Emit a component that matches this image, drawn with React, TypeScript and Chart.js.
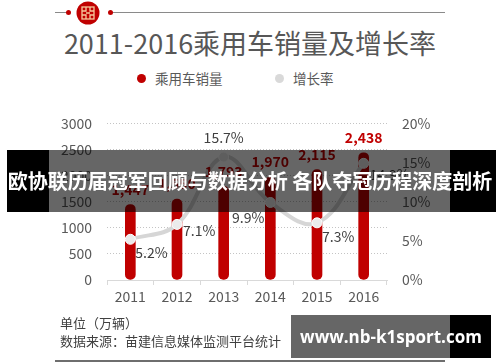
import React, { useEffect, useRef } from 'react';
import { Chart, registerables } from 'chart.js';

Chart.register(...registerables);

const FONT = "'Noto Sans CJK SC', 'Noto Sans', sans-serif";

const years = ['2011', '2012', '2013', '2014', '2015', '2016'];
const sales = [1447, 1550, 1793, 1970, 2115, 2438];
const growth = [5.2, 7.1, 15.7, 9.9, 7.3, 14.9];
const salesMax = 3000;
const salesStep = 500;
const growthMax = 20;
const growthStep = 5;

const titleText = '2011-2016乘用车销量及增长率';
const legendSales = '乘用车销量';
const legendGrowth = '增长率';
const unitText = '单位（万辆）';
const sourceText = '数据来源：苗建信息媒体监测平台统计';
const bannerText = '欧协联历届冠军回顾与数据分析 各队夺冠历程深度剖析';
const watermarkText = 'www.nb-k1sport.com';

// label placement relative to each growth point: [dx, dy, align]
const growthLabelPlacement: [number, number, CanvasTextAlign][] = [
  [5, 13, 'left'],
  [6, 6, 'left'],
  [0, -19, 'center'],
  [-6, 15, 'right'],
  [5, 14, 'left'],
  [6, 11, 'left'],
];

const RED = '#c00000';
const GREY_LINE = '#d6d6d6';

const labelPlugin = {
  id: 'valueLabels',
  afterDatasetsDraw(chart: any) {
    const ctx = chart.ctx;
    ctx.save();
    ctx.textBaseline = 'middle';
    const barMeta = chart.getDatasetMeta(0);
    ctx.font = `bold 14px ${FONT}`;
    ctx.fillStyle = RED;
    ctx.textAlign = 'center';
    barMeta.data.forEach((el: any, i: number) => {
      ctx.fillText(sales[i].toLocaleString('en-US'), el.x, el.y - 15);
    });
    const lineMeta = chart.getDatasetMeta(1);
    ctx.font = `14px ${FONT}`;
    ctx.fillStyle = '#404040';
    lineMeta.data.forEach((el: any, i: number) => {
      const [dx, dy, align] = growthLabelPlacement[i];
      ctx.textAlign = align;
      ctx.fillText(growth[i].toFixed(1) + '%', el.x + dx, el.y + dy);
    });
    ctx.restore();
  },
};

function ChartCanvas() {
  const ref = useRef<HTMLCanvasElement | null>(null);
  useEffect(() => {
    if (!ref.current) return;
    const chart = new Chart(ref.current, {
      type: 'bar',
      data: {
        labels: years,
        datasets: [
          {
            type: 'bar',
            label: legendSales,
            data: sales,
            yAxisID: 'y',
            backgroundColor: RED,
            barThickness: 10,
            borderRadius: 5,
            borderSkipped: false,
            order: 1,
          } as any,
          {
            type: 'line',
            label: legendGrowth,
            data: growth,
            yAxisID: 'y1',
            borderColor: GREY_LINE,
            borderWidth: 4,
            tension: 0.4,
            pointRadius: 5,
            pointBackgroundColor: '#ebebeb',
            pointBorderColor: '#ffffff',
            pointBorderWidth: 1,
            order: 0,
          } as any,
        ],
      },
      options: {
        animation: false,
        responsive: false,
        devicePixelRatio: 1,
        layout: { padding: { top: 22, left: 0, right: 0, bottom: 0 } },
        plugins: { legend: { display: false }, tooltip: { enabled: false } },
        scales: {
          x: {
            type: 'category',
            offset: true,
            grid: {
              offset: true,
              drawOnChartArea: false,
              drawTicks: true,
              tickLength: 5,
              color: '#d9d9d9',
            },
            border: { color: '#d9d9d9' },
            ticks: { font: { size: 14, family: FONT }, color: '#595959', padding: 3 },
            afterFit: (s: any) => {
              s.height = 35;
            },
          },
          y: {
            position: 'left',
            min: 0,
            max: salesMax,
            ticks: {
              stepSize: salesStep,
              font: { size: 14, family: FONT },
              color: '#595959',
              padding: 15,
              callback: (v: any) => String(v),
            },
            grid: {
              drawTicks: false,
              color: (c: any) => (c.tick && c.tick.value === 0 ? 'rgba(0,0,0,0)' : '#c4c4c4'),
            },
            border: { display: false, dash: [1, 2] },
            afterFit: (s: any) => {
              s.width = 107;
            },
          },
          y1: {
            position: 'right',
            min: 0,
            max: growthMax,
            ticks: {
              stepSize: growthStep,
              font: { size: 14, family: FONT },
              color: '#595959',
              padding: 15,
              callback: (v: any) => v + '%',
            },
            grid: { display: false, drawTicks: false },
            border: { display: false },
            afterFit: (s: any) => {
              s.width = 113;
            },
          },
        },
      } as any,
      plugins: [labelPlugin],
    });
    return () => chart.destroy();
  }, []);
  return (
    <canvas
      ref={ref}
      width={500}
      height={215}
      style={{ position: 'absolute', left: 0, top: 100, width: 500, height: 215 }}
    />
  );
}

const abs = (s: React.CSSProperties): React.CSSProperties => ({ position: 'absolute', ...s });

export default function App() {
  return (
    <div
      style={{
        position: 'absolute',
        left: 0,
        top: 0,
        width: 500,
        height: 362,
        background: '#ffffff',
        overflow: 'hidden',
        fontFamily: FONT,
      }}
    >
      {/* top decoration */}
      <div style={abs({ left: 55, top: 12, width: 13, height: 1, background: '#8a8a8a' })} />
      <div style={abs({ left: 110, top: 12, width: 335, height: 1, background: '#8a8a8a' })} />
      <div style={abs({ left: 66, top: 10, width: 5, height: 5, borderRadius: 3, background: RED })} />
      <div style={abs({ left: 108, top: 10, width: 5, height: 5, borderRadius: 3, background: RED })} />
      <svg style={abs({ left: 76, top: 1, width: 24, height: 24 })} viewBox="0 0 24 24">
        <circle cx="12" cy="12" r="11.5" fill={RED} />
        <g fill="none" stroke="#f6c89c" strokeWidth="1.3">
          <rect x="6" y="6" width="12" height="12" />
          <path d="M6 10 H10 V6 M14 6 V10 H18 M6 14 H10 V18 M14 18 V14 H18 M10 12 H14" />
        </g>
      </svg>

      {/* title */}
      <div
        style={abs({
          left: 0,
          top: 25,
          width: 500,
          height: 36,
          lineHeight: '36px',
          textAlign: 'center',
          fontSize: 27,
          color: '#575757',
        })}
      >
        {titleText}
      </div>

      {/* legend */}
      <div style={abs({ left: 137, top: 74, width: 9, height: 9, borderRadius: 5, background: RED })} />
      <div style={abs({ left: 155, top: 69, height: 18, lineHeight: '18px', fontSize: 13.5, color: '#595959' })}>
        {legendSales}
      </div>
      <div style={abs({ left: 275, top: 74, width: 9, height: 9, borderRadius: 5, background: '#d9d9d9' })} />
      <div style={abs({ left: 293, top: 69, height: 18, lineHeight: '18px', fontSize: 13.5, color: '#595959' })}>
        {legendGrowth}
      </div>

      <ChartCanvas />

      {/* footer */}
      <div style={abs({ left: 60, top: 314, height: 18, lineHeight: '18px', fontSize: 13, color: '#404040' })}>
        {unitText}
      </div>
      <div style={abs({ left: 60, top: 332, height: 18, lineHeight: '18px', fontSize: 13, color: '#404040' })}>
        {sourceText}
      </div>
      <div style={abs({ left: 55, top: 360, width: 390, height: 1.5, background: '#6e6e6e' })} />

      {/* overlay banner */}
      <div style={abs({ left: 7, top: 150, width: 42, height: 62, background: '#000' })} />
      <div style={abs({ left: 49, top: 150, width: 401, height: 62, background: 'rgba(0,0,0,0.6)' })} />
      <div style={abs({ left: 450, top: 150, width: 46, height: 62, background: '#000' })} />
      <div
        style={abs({
          left: 0,
          top: 150,
          width: 500,
          height: 62,
          lineHeight: '62px',
          textAlign: 'center',
          fontSize: 20,
          fontWeight: 'bold',
          color: '#ffffff',
          whiteSpace: 'nowrap',
        })}
      >
        {bannerText}
      </div>

      {/* watermark */}
      <div style={abs({ left: 291, top: 315, width: 159, height: 43, background: 'rgba(0,0,0,0.6)' })} />
      <div style={abs({ left: 450, top: 315, width: 41, height: 43, background: '#000' })} />
      <div
        style={abs({
          left: 291,
          top: 315,
          width: 200,
          height: 43,
          lineHeight: '43px',
          textAlign: 'center',
          fontSize: 17,
          fontWeight: 'bold',
          color: '#ffffff',
          fontFamily: "'Open Sans', 'DejaVu Sans', sans-serif",
          whiteSpace: 'nowrap',
        })}
      >
        {watermarkText}
      </div>
    </div>
  );
}
